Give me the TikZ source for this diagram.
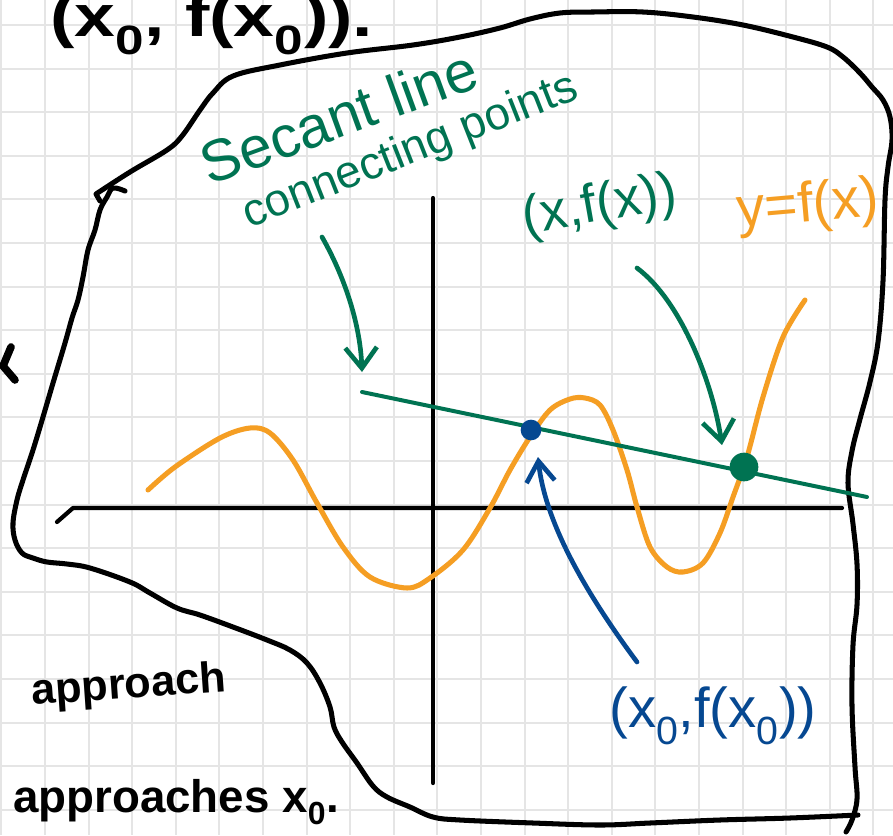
\documentclass[tikz,border=0pt]{standalone}
\usepackage{fontspec}
\usepackage{graphicx}
\setmainfont{Liberation Sans}
\usetikzlibrary{arrows.meta}
\definecolor{gridc}{RGB}{229,229,229}
\definecolor{ocol}{RGB}{245,158,35}
\definecolor{gcol}{RGB}{0,115,82}
\definecolor{bcol}{RGB}{6,72,145}
\tikzset{
  gridline/.style={gridc, line width=1.6pt},
  ink/.style={black, line width=4.3pt, line cap=round, line join=round},
  axisline/.style={black, line width=3.6pt, line cap=round, line join=round},
  curveline/.style={ocol, line width=4.3pt, line cap=round},
  secline/.style={gcol, line width=3.4pt, line cap=round},
  garrow/.style={gcol, line width=4pt, line cap=round, -{Straight Barb[length=0.62cm,width=0.95cm]}},
  barrow/.style={bcol, line width=4pt, line cap=round, -{Straight Barb[length=0.62cm,width=0.85cm]}},
  gtxt/.style={text=gcol, inner sep=0pt},
  otxt/.style={text=ocol, inner sep=0pt},
  btxt/.style={text=bcol, inner sep=0pt},
  ktxt/.style={text=black, inner sep=0pt, font=\bfseries},
}
\begin{document}
\begin{tikzpicture}[x=0.03cm,y=-0.03cm]
\useasboundingbox (0,0) rectangle (893,835);
\clip (0,0) rectangle (893,835);
\fill[white] (0,0) rectangle (893,835);
% grid
\foreach \i in {0,...,20} \draw[gridline] ({1.4+43.6*\i},0) -- ({1.4+43.6*\i},835);
\foreach \j in {0,...,18} \draw[gridline] (0,{25+43.6*\j}) -- (893,{25+43.6*\j});

% top text (cut off)
\node[ktxt, anchor=base west, font=\bfseries\fontsize{50pt}{56pt}\selectfont] (toptext) at (50,36)
  {\scalebox{1.25}[1]{(x\textsubscript{0}, f(x\textsubscript{0})).}};

% fragment of a letter at the left edge
\draw[ink, line width=6.5pt] (11,347) -- (3,366) -- (15,380);

% blob outline: top and right stroke
\draw[ink] (100,201) -- (96,194) plot[smooth, tension=0.6] coordinates {
  (96,194) (130,172) (167,150) (182,136) (200,110) (213,93) (233,76) (280,65)
  (347,53) (413,45) (460,37) (500,28) (530,19) (560,13) (593,12) (643,12)
  (693,17) (743,25) (793,37) (827,47) (843,57) (860,73) (872,87) (883,100)
  (890,117) (892,140) (888,167) (885,200) (883,281) (878,342) (870,382)
  (860,419) (852,451) (848,483) (853,524) (857,564) (857,605) (853,645)
  (852,706) (855,767) (857,799) (852,820) (846,832)};
% blob outline: left and bottom stroke
\draw[ink] plot[smooth, tension=0.6] coordinates {
  (125,191) (113,188) (107,197) (100,210) (95,230) (88,250) (83,277) (78,300)
  (72,318) (65,343) (53,383) (43,417) (33,450) (23,480) (17,500) (13,523)
  (15,540) (22,553) (33,558) (47,562) (67,564) (90,568) (130,582) (150,593)
  (177,608) (200,615) (233,627) (267,640) (290,650) (307,663) (320,683)
  (330,707) (334,727) (342,742) (357,763) (373,786) (387,797) (410,807)
  (433,817) (460,820) (533,823) (600,825) (650,823) (720,820) (790,818)
  (858,815)};

% axes
\coordinate (xa0) at (57,522);
\coordinate (xa1) at (73,508);
\coordinate (xa2) at (842,508);
\coordinate (ya1) at (433,198);
\coordinate (ya2) at (433,783);
\draw[axisline] (xa0) -- (xa1) -- (xa2);
\draw[axisline] (ya1) -- (ya2);

% the function
\draw[curveline] plot[smooth, tension=0.55] coordinates {
  (148,490) (175,467) (220,438) (250,428) (270,433) (293,460) (317,503)
  (343,547) (370,577) (407,588) (430,578) (463,550) (490,508) (510,470)
  (530,437) (550,410) (570,399) (585,398) (600,405) (613,430) (627,470)
  (637,507) (650,547) (667,567) (683,572) (703,563) (720,533) (733,497)
  (747,457) (763,397) (783,337) (805,300)};

% secant line
\coordinate (s1) at (362,392);
\coordinate (s2) at (867,497);
\draw[secline] (s1) -- (s2);

% points
\node[circle, fill=bcol, minimum size=0.62cm, inner sep=0pt] (p0) at (531,430) {};
\node[circle, fill=gcol, minimum size=0.86cm, inner sep=0pt] (p1) at (744,467) {};

% labels
\node[gtxt, anchor=base, rotate=20, font=\fontsize{50pt}{56pt}\selectfont] (sec) at (346,136) {Secant line};
\node[gtxt, anchor=base, rotate=21.5, font=\fontsize{39pt}{44pt}\selectfont] (con) at (415,163) {connecting points};
\node[gtxt, rotate=10, font=\fontsize{46pt}{52pt}\selectfont] (glab) at (600,207) {(x,f(x))};
\node[otxt, rotate=5, font=\fontsize{48pt}{54pt}\selectfont] (olab) at (808,207) {y=f(x)};
\node[btxt, font=\fontsize{48pt}{54pt}\selectfont] (blab) at (713,716) {(x\textsubscript{0},f(x\textsubscript{0}))};

% arrows
\coordinate (g1s) at (322,237);
\coordinate (g1e) at (362,372);
\draw[garrow] (g1s) .. controls (342,272) and (360,320) .. (g1e);
\coordinate (g2s) at (637,268);
\coordinate (g2e) at (722,445);
\draw[garrow] (g2s) .. controls (680,300) and (712,380) .. (g2e);
\coordinate (b1s) at (637,662);
\coordinate (b1e) at (538,457);
\draw[barrow] (b1s) .. controls (585,592) and (545,522) .. (b1e);

% bottom-left text
\node[ktxt, anchor=base west, rotate=4, font=\bfseries\fontsize{37pt}{42pt}\selectfont] (appr) at (32,705) {approach};
\node[ktxt, anchor=base west, font=\bfseries\fontsize{39pt}{44pt}\selectfont] (appr2) at (13,812) {approaches x\textsubscript{0}.};
\end{tikzpicture}
\end{document}
